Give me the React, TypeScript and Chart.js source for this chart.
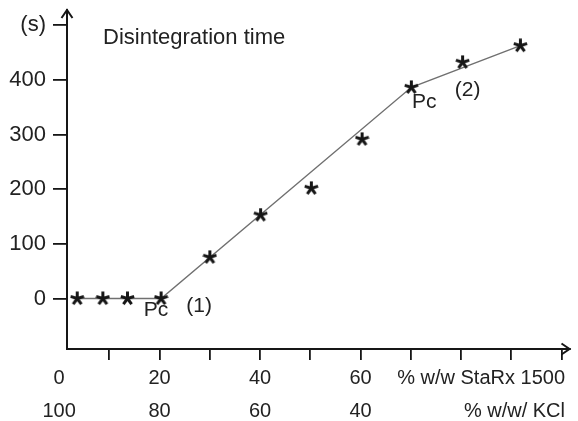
import { useEffect, useRef } from "react";
import { Chart, registerables } from "chart.js";

Chart.register(...registerables);

// Measured disintegration times (s) against StaRx 1500 content (% w/w)
const starRxPercent = [3.6, 8.7, 13.6, 20.3, 30.0, 40.1, 50.2, 60.3, 70.1, 80.3, 91.8];
const disintegrationTime = [0, 0, 0, 0, 75.4, 152.8, 201.7, 291.4, 386.5, 432.3, 462.7];

// Piecewise trend through the two percolation thresholds
const trendX = [3.6, 20.3, 70.1, 91.8];
const trendY = [0, 0, 386.5, 462.7];

// Axis ticks and labels
const yTickValues = [0, 100, 200, 300, 400, 500];
const yUnitLabel = "(s)";
const xTickValues = [10, 20, 30, 40, 50, 60, 70, 80, 90, 100];
const starRxTickLabels = [0, 20, 40, 60];
const kclTickLabels = [100, 80, 60, 40];
const starRxAxisTitle = "% w/w StaRx 1500";
const kclAxisTitle = "% w/w/ KCl";
const chartTitle = "Disintegration time";

// Notes attached to data points: index into the series, pixel offset
const pointNotes = [
  { index: 3, text: "Pc", dx: -5, dy: 12 },
  { index: 3, text: "(1)", dx: 38, dy: 8 },
  { index: 8, text: "Pc", dx: 13, dy: 15 },
  { index: 9, text: "(2)", dx: 5, dy: 28 },
];

const FONT = '"Liberation Sans", Arial, Helvetica, sans-serif';
const INK = "#161616";
const TEXT = "#222222";

function makeAsterisk(size: number): HTMLCanvasElement {
  const c = document.createElement("canvas");
  c.width = size;
  c.height = size;
  const g = c.getContext("2d")!;
  g.strokeStyle = INK;
  g.lineWidth = 3;
  g.lineCap = "butt";
  const cx = size / 2;
  const cy = size / 2;
  const r = size / 2 - 0.5;
  g.beginPath();
  for (let k = 0; k < 5; k++) {
    const a = -Math.PI / 2 + (k * 2 * Math.PI) / 5;
    g.moveTo(cx, cy);
    g.lineTo(cx + r * Math.cos(a), cy + r * Math.sin(a));
  }
  g.stroke();
  return c;
}

const decorations = {
  id: "decorations",
  afterDraw(chart: any) {
    const { ctx, chartArea } = chart;
    const xs = chart.scales.x;
    const ys = chart.scales.y;
    ctx.save();

    // arrowheads on both axes
    ctx.strokeStyle = INK;
    ctx.lineWidth = 2;
    ctx.lineJoin = "miter";
    const ax = chartArea.left;
    const top = chartArea.top;
    ctx.beginPath();
    ctx.moveTo(ax - 5.5, top + 8);
    ctx.lineTo(ax, top);
    ctx.lineTo(ax + 5.5, top + 8);
    ctx.stroke();
    const right = chartArea.right;
    const by = chartArea.bottom;
    ctx.beginPath();
    ctx.moveTo(right - 8, by - 5.5);
    ctx.lineTo(right, by);
    ctx.lineTo(right - 8, by + 5.5);
    ctx.stroke();

    // title
    ctx.fillStyle = TEXT;
    ctx.textBaseline = "middle";
    ctx.textAlign = "left";
    ctx.font = `22px ${FONT}`;
    ctx.fillText(chartTitle, 103, 38);

    // two rows of composition labels under the x axis
    ctx.font = `20px ${FONT}`;
    ctx.textAlign = "center";
    const row1 = by + 29;
    const row2 = by + 62;
    starRxTickLabels.forEach((v, i) => {
      const px = xs.getPixelForValue(v);
      ctx.fillText(String(v), px, row1);
      ctx.fillText(String(kclTickLabels[i]), px, row2);
    });
    ctx.textAlign = "right";
    ctx.fillText(starRxAxisTitle, 565, row1);
    ctx.fillText(kclAxisTitle, 565, row2);

    // point notes
    ctx.font = `21px ${FONT}`;
    ctx.textAlign = "center";
    pointNotes.forEach((n) => {
      const px = xs.getPixelForValue(starRxPercent[n.index]);
      const py = ys.getPixelForValue(disintegrationTime[n.index]);
      ctx.fillText(n.text, px + n.dx, py + n.dy);
    });

    ctx.restore();
  },
};

export default function App() {
  const canvasRef = useRef<HTMLCanvasElement | null>(null);

  useEffect(() => {
    const canvas = canvasRef.current;
    if (!canvas) return;
    const asterisk = makeAsterisk(15);

    const chart = new Chart(canvas, {
      type: "scatter",
      data: {
        datasets: [
          {
            type: "line",
            data: trendX.map((x, i) => ({ x, y: trendY[i] })),
            borderColor: "#707070",
            borderWidth: 1.4,
            pointRadius: 0,
            fill: false,
            tension: 0,
            order: 2,
          } as any,
          {
            type: "scatter",
            data: starRxPercent.map((x, i) => ({ x, y: disintegrationTime[i] })),
            pointStyle: asterisk as any,
            pointRadius: 7.5,
            order: 1,
          },
        ],
      },
      options: {
        animation: false,
        responsive: false,
        devicePixelRatio: 1,
        layout: { padding: { top: 10, right: 1, left: 0, bottom: 0 } },
        plugins: {
          legend: { display: false },
          tooltip: { enabled: false },
        },
        scales: {
          x: {
            type: "linear",
            min: 1.57,
            max: 101.57,
            grid: {
              drawOnChartArea: false,
              drawTicks: true,
              tickLength: 11,
              color: INK,
              lineWidth: 1.8,
            },
            border: { display: true, color: INK, width: 2 },
            ticks: { display: false },
            afterBuildTicks: (s: any) => {
              s.ticks = xTickValues.map((value) => ({ value }));
            },
            afterFit: (s: any) => {
              s.height = 72;
              s.paddingLeft = 0;
              s.paddingRight = 0;
            },
          },
          y: {
            type: "linear",
            min: -92.4,
            max: 528,
            grid: {
              drawOnChartArea: false,
              drawTicks: true,
              tickLength: 14,
              color: INK,
              lineWidth: 1.8,
            },
            border: { display: true, color: INK, width: 2 },
            ticks: {
              color: TEXT,
              padding: 7,
              font: { family: FONT, size: 22 },
              callback: (v: any) => (v === 500 ? yUnitLabel : String(v)),
            },
            afterBuildTicks: (s: any) => {
              s.ticks = yTickValues.map((value) => ({ value }));
            },
            afterFit: (s: any) => {
              s.width = 67;
              s.paddingTop = 0;
              s.paddingBottom = 0;
            },
          },
        },
      },
      plugins: [decorations],
    });

    return () => chart.destroy();
  }, []);

  return (
    <div style={{ position: "fixed", left: 0, top: 0, width: 578, height: 421, background: "#fff" }}>
      <canvas ref={canvasRef} width={578} height={421} />
    </div>
  );
}
